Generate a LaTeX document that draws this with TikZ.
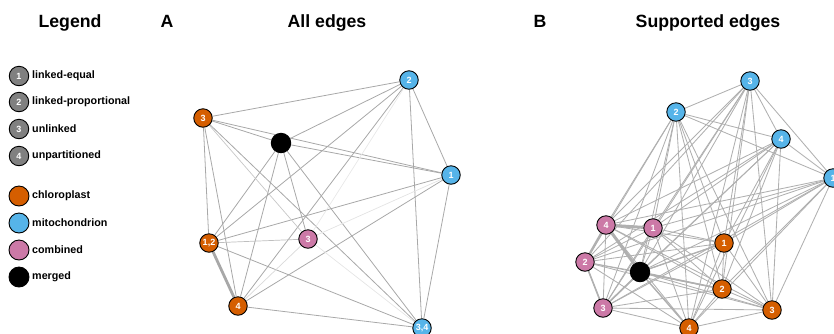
\documentclass[tikz,border=0pt]{standalone}
\usepackage{fontspec}
\setmainfont{Liberation Sans}
\pgfdeclarelayer{edges}
\pgfsetlayers{edges,main}
\definecolor{chloro}{HTML}{D55E00}
\definecolor{mito}{HTML}{56B4E9}
\definecolor{comb}{HTML}{CC79A7}
\definecolor{lgray}{HTML}{808080}
\definecolor{edgeA}{HTML}{A8A8A8}
\definecolor{edgeB}{HTML}{B0B0B0}
\tikzset{
  vtx/.style={circle, draw=black, line width=0.9pt, minimum size=18.5pt, inner sep=0pt,
    font=\fontsize{9}{9}\selectfont\bfseries, text=white},
  chl/.style={vtx, fill=chloro},
  mit/.style={vtx, fill=mito},
  cmb/.style={vtx, fill=comb},
  mrg/.style={vtx, fill=black, minimum size=19.5pt},
  lgnum/.style={vtx, fill=lgray, minimum size=19.5pt},
  lgdot/.style={vtx, minimum size=20pt},
  lgtext/.style={anchor=west, inner sep=0pt, font=\fontsize{10.75}{10.75}\selectfont\bfseries},
  ttl/.style={anchor=base, inner sep=0pt, font=\fontsize{17.7}{17.7}\selectfont\bfseries},
  ea/.style={draw=edgeA, line width=0.8pt},
  eb/.style={draw=edgeB, line width=0.85pt},
}
\begin{document}
\begin{tikzpicture}[x=1pt, y=-1pt]
\useasboundingbox (0,0) rectangle (834,333);

% ---------- titles ----------
\node[ttl] (tLeg) at (70,27) {Legend};
\node[ttl] (tA)   at (167,27) {A};
\node[ttl] (tAll) at (327,27) {All edges};
\node[ttl] (tB)   at (540,27) {B};
\node[ttl] (tSup) at (708,27) {Supported edges};

% ---------- legend ----------
\node[lgnum] (l1) at (19,76)  {1};
\node[lgnum] (l2) at (19,102) {2};
\node[lgnum] (l3) at (19,129) {3};
\node[lgnum] (l4) at (19,156) {4};
\node[lgdot, fill=chloro] (lc) at (19,196) {};
\node[lgdot, fill=mito]   (lm) at (19,223) {};
\node[lgdot, fill=comb]   (lb) at (19,250) {};
\node[lgdot, fill=black]  (lk) at (19,277) {};
\node[lgtext] (t1) at (32,76)  {linked-equal};
\node[lgtext] (t2) at (32,102) {linked-proportional};
\node[lgtext] (t3) at (32,129) {unlinked};
\node[lgtext] (t4) at (32,156) {unpartitioned};
\node[lgtext] (tc) at (32,196) {chloroplast};
\node[lgtext] (tm) at (32,223) {mitochondrion};
\node[lgtext] (tb) at (32,250) {combined};
\node[lgtext] (tk) at (32,277) {merged};

% ---------- panel A: all edges ----------
\node[mit] (a2)  at (409,80)  {2};
\node[chl] (a3o) at (203,118) {3};
\node[mrg] (ak)  at (281,143) {};
\node[mit] (a1)  at (451,175) {1};
\node[chl] (a12) at (209,243) {1,2};
\node[cmb] (a3p) at (308,239) {3};
\node[chl] (a4)  at (238,306) {4};
\node[mit] (a34) at (422,328) {3,4};

\begin{pgfonlayer}{edges}
  \draw[ea] (a2) -- (a3o);
  \draw[ea] (a2) -- (ak);
  \draw[ea] (a2) -- (a1);
  \draw[ea] (a2) -- (a12);
  \draw[ea] (a2) -- (a4);
  \draw[ea] (a2) -- (a34);
  \draw[ea] (a3o) -- (ak);
  \draw[ea] (a3o) -- (a1);
  \draw[ea] (a3o) -- (a12);
  \draw[ea] (a3o) -- (a4);
  \draw[ea] (a3o) -- (a34);
  \draw[ea] (ak) -- (a1);
  \draw[ea] (ak) -- (a12);
  \draw[ea] (ak) -- (a4);
  \draw[ea] (ak) -- (a3p);
  \draw[ea] (ak) -- (a34);
  \draw[ea] (a1) -- (a12);
  \draw[ea] (a1) -- (a4);
  \draw[ea] (a1) -- (a34);
  \draw[ea] (a12) -- (a34);
  \draw[ea] (a4) -- (a34);
  \draw[draw=edgeA, line width=2.8pt] (a12) -- (a4);
  % weakly supported links of the combined node
  \draw[draw=black!22, line width=0.7pt] (a3o) -- (a3p);
  \draw[draw=black!25, line width=0.7pt] (a12) -- (a3p);
  \draw[draw=black!9,  line width=0.7pt] (a2) -- (a3p);
  \draw[draw=black!11, line width=0.7pt] (a1) -- (a3p);
  \draw[draw=black!15, line width=0.7pt] (a4) -- (a3p);
  \draw[draw=black!10, line width=0.7pt] (a34) -- (a3p);
\end{pgfonlayer}

% ---------- panel B: supported edges ----------
\node[mit] (b3)  at (750,81)  {3};
\node[mit] (b2)  at (676,112) {2};
\node[mit] (b4)  at (781,139) {4};
\node[mit] (b1)  at (833,178) {1};
\node[cmb] (p4)  at (606,225) {4};
\node[cmb] (p1)  at (653,228) {1};
\node[chl] (o1)  at (724,243) {1};
\node[cmb] (p2)  at (585,262) {2};
\node[mrg] (bk)  at (640,272) {};
\node[chl] (o2)  at (722,289) {2};
\node[cmb] (p3)  at (603,308) {3};
\node[chl] (o3)  at (772,310) {3};
\node[chl] (o4)  at (689,328) {4};

\begin{pgfonlayer}{edges}
  \foreach \u [count=\i] in {b3,b2,b4,b1,p4,p1,o1,p2,bk,o2,p3,o3,o4} {
    \foreach \v [count=\j] in {b3,b2,b4,b1,p4,p1,o1,p2,bk,o2,p3,o3,o4} {
      \ifnum\j>\i \draw[eb] (\u) -- (\v); \fi
    }
  }
  \draw[draw=edgeB, line width=3pt]   (p4) -- (p1);
  \draw[draw=edgeB, line width=3pt]   (p4) -- (bk);
  \draw[draw=edgeB, line width=2.4pt] (p4) -- (p2);
  \draw[draw=edgeB, line width=1.6pt] (p2) -- (p3);
  \draw[draw=edgeB, line width=1.6pt] (bk) -- (p3);
  \draw[draw=edgeB, line width=1.6pt] (bk) -- (o2);
  \draw[draw=edgeB, line width=1.4pt] (bk) -- (o4);
  \draw[draw=edgeB, line width=1.3pt] (bk) -- (o1);
\end{pgfonlayer}
\end{tikzpicture}
\end{document}
